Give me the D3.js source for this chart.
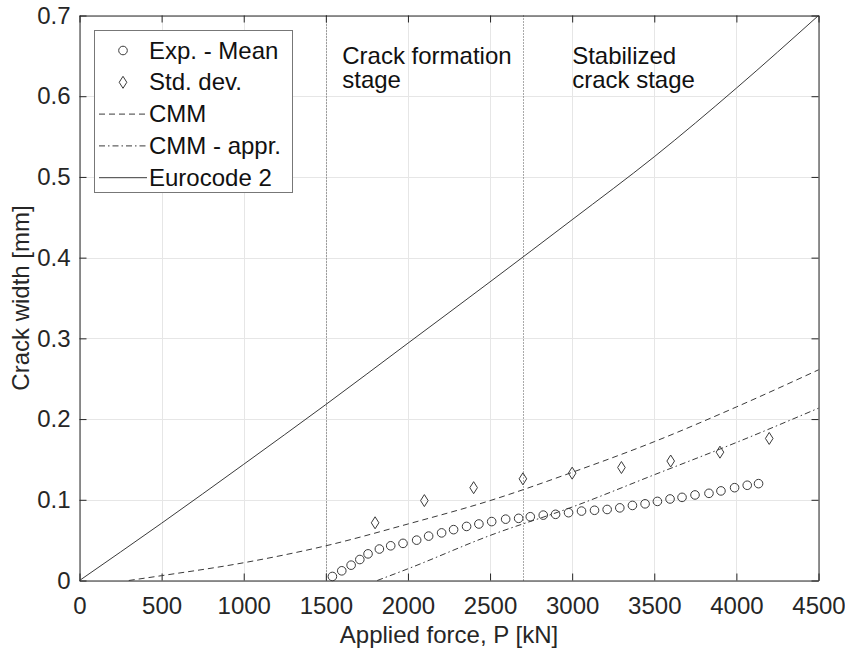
<!DOCTYPE html>
<html>
<head>
<meta charset="utf-8">
<script src="https://cdn.jsdelivr.net/npm/d3@7"></script>
<style>
  body { margin: 0; background: #fff; }
  svg { display: block; font-family: "Liberation Sans", Arial, sans-serif; }
</style>
</head>
<body>
<svg id="chart"></svg>
<script>
// experimental mean crack width
const meanP = [1540, 1597, 1654, 1707, 1757, 1826, 1895, 1970, 2053, 2126, 2205, 2278, 2357, 2432, 2510, 2595, 2674, 2745,
    2824, 2899, 2978, 3057, 3136, 3213, 3290, 3367, 3444, 3519, 3596, 3669, 3748, 3833, 3906, 3989, 4066, 4135];
const meanW = [0.005, 0.012, 0.019, 0.026, 0.033, 0.039, 0.043, 0.046, 0.050, 0.055, 0.059, 0.063, 0.067, 0.070, 0.073, 0.076, 0.077, 0.079,
    0.081, 0.082, 0.084, 0.086, 0.087, 0.088, 0.090, 0.093, 0.095, 0.098, 0.101, 0.103, 0.106, 0.108, 0.111, 0.115, 0.118, 0.120];

// standard deviation points
const stdP = [1800, 2100, 2400, 2700, 3000, 3300, 3600, 3900, 4200];
const stdW = [0.0715, 0.099, 0.115, 0.126, 0.133, 0.140, 0.148, 0.159, 0.176];

// model curves
const cmmP = [300, 500, 1000, 1500, 2000, 2500, 3000, 3500, 4000, 4500];
const cmmW = [0, 0.006, 0.022, 0.043, 0.070, 0.099, 0.134, 0.172, 0.215, 0.261];

const apprP = [1813, 2000, 2500, 3000, 3500, 4000, 4500];
const apprW = [0, 0.0145, 0.0558, 0.091, 0.131, 0.171, 0.2135];

const ecP = [0, 500, 1000, 1500, 2000, 2500, 3000, 3500, 4000, 4500];
const ecW = [0, 0.071, 0.144, 0.218, 0.294, 0.370, 0.447, 0.525, 0.610, 0.700];

// stage boundaries
const stageLines = [1500, 2700];

const xTicks = [0, 500, 1000, 1500, 2000, 2500, 3000, 3500, 4000, 4500];
const yTicks = [0, 0.1, 0.2, 0.3, 0.4, 0.5, 0.6, 0.7];

const legendItems = ["Exp. - Mean", "Std. dev.", "CMM", "CMM - appr.", "Eurocode 2"];

const width = 845;
const height = 653;
const margin = {left: 79.5, right: 26.5, top: 15.5, bottom: 72.5};
const ink = "#262626";
const lineColor = "#3a3a3a";

const svg = d3.select("#chart")
    .attr("width", width)
    .attr("height", height);

const x = d3.scaleLinear()
    .domain([0, 4500])
    .range([margin.left, width - margin.right]);
const y = d3.scaleLinear()
    .domain([0, 0.7])
    .range([height - margin.bottom, margin.top]);

const plotH = height - margin.top - margin.bottom;

// grid
svg.append("g")
    .selectAll("line")
    .data(xTicks)
    .join("line")
    .attr("x1", d => Math.round(x(d)) + 0.5)
    .attr("x2", d => Math.round(x(d)) + 0.5)
    .attr("y1", margin.top)
    .attr("y2", height - margin.bottom)
    .attr("stroke", "#e6e6e6");
svg.append("g")
    .selectAll("line")
    .data(yTicks)
    .join("line")
    .attr("y1", d => Math.round(y(d)) + 0.5)
    .attr("y2", d => Math.round(y(d)) + 0.5)
    .attr("x1", margin.left)
    .attr("x2", width - margin.right)
    .attr("stroke", "#e6e6e6");

// stage separators
svg.append("g")
    .selectAll("line")
    .data(stageLines)
    .join("line")
    .attr("x1", d => Math.round(x(d)) + 0.5)
    .attr("x2", d => Math.round(x(d)) + 0.5)
    .attr("y1", margin.top)
    .attr("y2", height - margin.bottom)
    .attr("stroke", "#555")
    .attr("stroke-dasharray", "1,2");

const styleAxis = (g) => {
    g.select(".domain").attr("stroke", ink);
    g.selectAll(".tick line").attr("stroke", ink);
    g.selectAll(".tick text").attr("fill", ink).style("font-size", "24px");
};

svg.append("g")
    .attr("transform", `translate(0,${height - margin.bottom})`)
    .call(d3.axisBottom(x).tickValues(xTicks).tickSizeInner(-7).tickSizeOuter(0).tickPadding(16)
        .tickFormat(d3.format("d")))
    .call(styleAxis);
svg.append("g")
    .attr("transform", `translate(0,${margin.top})`)
    .call(d3.axisTop(x).tickValues(xTicks).tickSizeInner(-7).tickSizeOuter(0).tickFormat(""))
    .call(styleAxis);
svg.append("g")
    .attr("transform", `translate(${margin.left},0)`)
    .call(d3.axisLeft(y).tickValues(yTicks).tickSizeInner(-7).tickSizeOuter(0).tickPadding(9)
        .tickFormat(d => d === 0 ? "0" : d3.format(".1f")(d)))
    .call(styleAxis);
svg.append("g")
    .attr("transform", `translate(${width - margin.right},0)`)
    .call(d3.axisRight(y).tickValues(yTicks).tickSizeInner(-7).tickSizeOuter(0).tickFormat(""))
    .call(styleAxis);

// curves
const curve = (P, W) => P.map((p, i) => [p, W[i]]);
const line = d3.line()
    .x(d => x(d[0]))
    .y(d => y(d[1]))
    .curve(d3.curveMonotoneX);

const series = [
    {data: curve(ecP, ecW), dash: null},
    {data: curve(cmmP, cmmW), dash: "6,4"},
    {data: curve(apprP, apprW), dash: "6,3,1.5,3"},
];

svg.append("g")
    .selectAll("path")
    .data(series)
    .join("path")
    .attr("d", d => line(d.data))
    .attr("fill", "none")
    .attr("stroke", lineColor)
    .attr("stroke-width", 1)
    .attr("stroke-dasharray", d => d.dash);

// markers
svg.append("g")
    .selectAll("circle")
    .data(curve(meanP, meanW))
    .join("circle")
    .attr("cx", d => x(d[0]))
    .attr("cy", d => y(d[1]))
    .attr("r", 4.3)
    .attr("fill", "none")
    .attr("stroke", lineColor);

const diamond = (cx, cy) => `M${cx},${cy - 6}L${cx + 3.8},${cy}L${cx},${cy + 6}L${cx - 3.8},${cy}Z`;

svg.append("g")
    .selectAll("path")
    .data(curve(stdP, stdW))
    .join("path")
    .attr("d", d => diamond(x(d[0]), y(d[1])))
    .attr("fill", "none")
    .attr("stroke", lineColor);

// stage labels
const stages = [
    {p: 1600, lines: ["Crack formation", "stage"]},
    {p: 3000, lines: ["Stabilized", "crack stage"]},
];
svg.append("g")
    .selectAll("text")
    .data(stages)
    .join("text")
    .attr("x", d => x(d.p))
    .attr("y", y(0.64))
    .attr("fill", "#111")
    .style("font-size", "24px")
    .selectAll("tspan")
    .data(d => d.lines.map(t => ({t, p: d.p})))
    .join("tspan")
    .attr("x", d => x(d.p))
    .attr("dy", (d, i) => i === 0 ? 0 : 24.5)
    .text(d => d.t);

// axis titles
svg.append("text")
    .attr("x", (margin.left + width - margin.right) / 2)
    .attr("y", 643)
    .attr("text-anchor", "middle")
    .attr("fill", ink)
    .style("font-size", "24px")
    .text("Applied force, P [kN]");
svg.append("text")
    .attr("transform", `translate(29,${margin.top + plotH / 2}) rotate(-90)`)
    .attr("text-anchor", "middle")
    .attr("fill", ink)
    .style("font-size", "24px")
    .text("Crack width [mm]");

// legend
const legend = svg.append("g");
legend.append("rect")
    .attr("x", 94.5)
    .attr("y", 30.5)
    .attr("width", 198)
    .attr("height", 162)
    .attr("fill", "#fff")
    .attr("stroke", "#777");

const rowY = (i) => 50.5 + i * 31.8;
legend.selectAll("text")
    .data(legendItems)
    .join("text")
    .attr("x", 149)
    .attr("y", (d, i) => rowY(i) + 8)
    .attr("fill", "#111")
    .style("font-size", "24px")
    .text(d => d);

legend.append("circle")
    .attr("cx", 123)
    .attr("cy", rowY(0))
    .attr("r", 4.3)
    .attr("fill", "none")
    .attr("stroke", lineColor);
legend.append("path")
    .attr("d", diamond(123, rowY(1)))
    .attr("fill", "none")
    .attr("stroke", lineColor);
legend.selectAll("line")
    .data([series[1], series[2], series[0]])
    .join("line")
    .attr("x1", 99)
    .attr("x2", 147)
    .attr("y1", (d, i) => rowY(i + 2))
    .attr("y2", (d, i) => rowY(i + 2))
    .attr("stroke", lineColor)
    .attr("stroke-dasharray", d => d.dash);
</script>
</body>
</html>
